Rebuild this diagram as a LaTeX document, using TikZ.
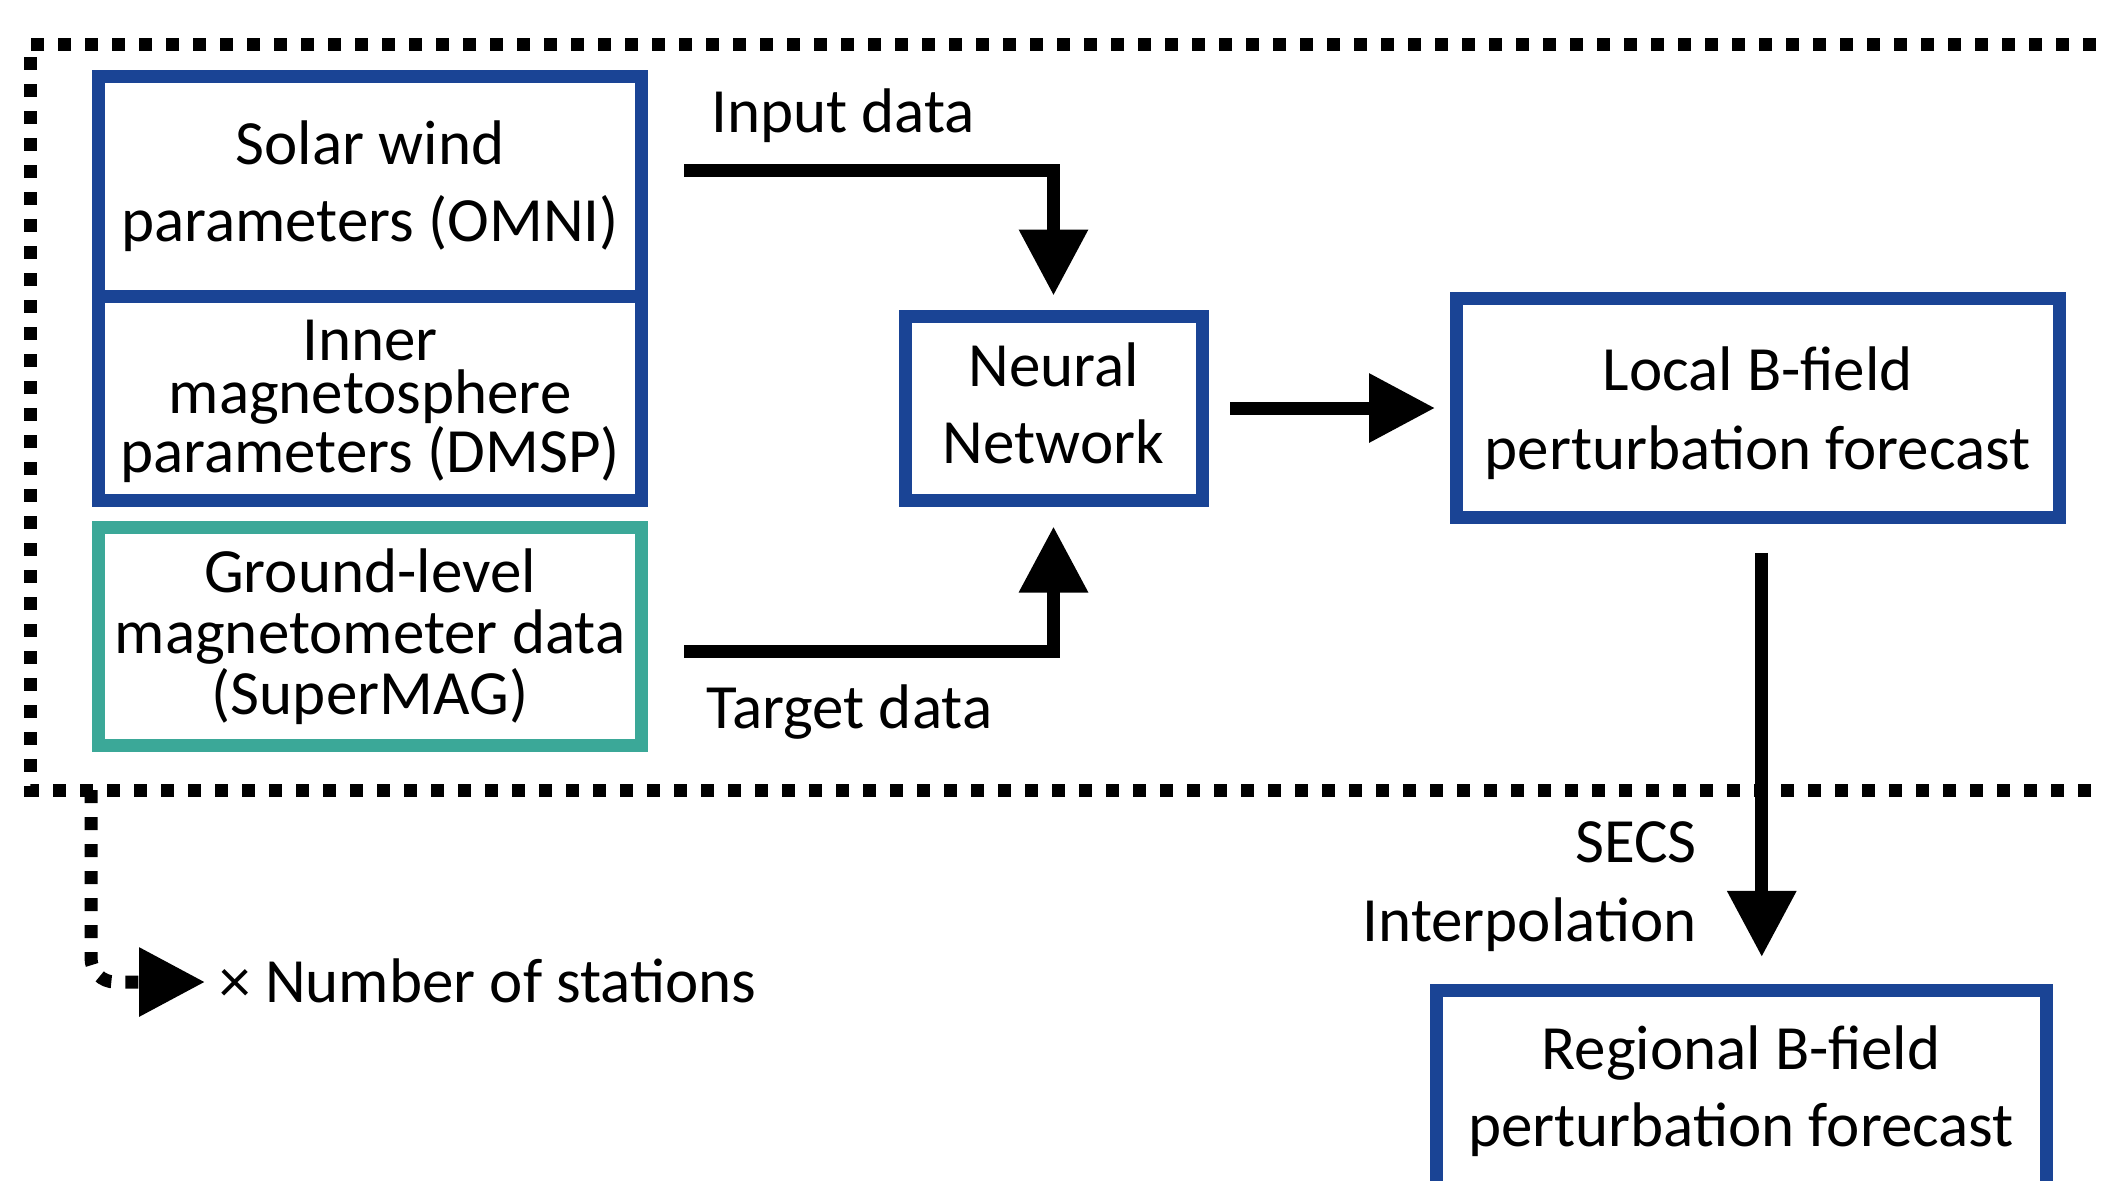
\documentclass[tikz,border=0pt]{standalone}
\usepackage{fontspec}
\setmainfont{Carlito}
\usetikzlibrary{arrows.meta, positioning}
\definecolor{boxblue}{HTML}{1A4495}
\definecolor{boxteal}{HTML}{3BA898}

\begin{document}
\begin{tikzpicture}[
    x=0.5pt, y=-0.5pt,
    node distance=7pt,
    every node/.style={font=\fontsize{31.5pt}{38.5pt}\selectfont},
    box/.style={rectangle, draw=boxblue, line width=6.5pt, align=center, inner sep=0pt},
    flow/.style={draw=black, line width=6.5pt, -{Triangle[length=33pt, width=33pt]}},
    frame/.style={draw=black, line width=6.5pt, dash pattern=on 6.5pt off 7pt},
    tail/.style={frame, -{Triangle[length=33pt, width=33pt]}},
    lbl/.style={inner sep=0pt}
]
    \useasboundingbox (0,0) rectangle (2103,1180);

    \node[box, minimum width=271.5pt, minimum height=109.75pt] (solar) at (370,186.25) {Solar wind\\parameters (OMNI)};
    \node[box, minimum width=271.5pt, minimum height=102.25pt, below=-6.5pt of solar, text depth=2pt, font=\fontsize{31.5pt}{26.5pt}\selectfont] (inner) {Inner\\magnetosphere\\parameters (DMSP)};
    \node[box, draw=boxteal, minimum width=271.5pt, minimum height=108.75pt, below=of inner, font=\fontsize{31.5pt}{30.5pt}\selectfont] (ground) {Ground-level\\magnetometer data\\(SuperMAG)};
    \node[box, minimum width=148.5pt, minimum height=92pt, text depth=5pt] (nn) at (1053.5,408) {Neural\\Network};
    \node[box, minimum width=301.25pt, minimum height=109.25pt, right=120.75pt of nn, text depth=-2pt, font=\fontsize{31.5pt}{39.25pt}\selectfont] (local) {Local B-field\\perturbation forecast};
    \node[box, minimum width=305pt, minimum height=109pt, text depth=13pt] (regional) at (1741,1099) {Regional B-field\\perturbation forecast};

    % dotted frame round the per-station part
    \draw[frame] (2150,44) -- (30,44) -- (30,790) -- (2150,790);

    \coordinate (inStart) at (684,170);
    \coordinate (tgtStart) at (684,651);
    \coordinate (secsTop) at ([xshift=2pt, yshift=-14.5pt]local.south);
    \coordinate (regTop) at ([yshift=13.3pt]regional.north);
    \draw[flow] (inStart) -| ([yshift=7pt]nn.north);
    \draw[flow] (tgtStart) -| ([yshift=-10pt]nn.south);
    \draw[flow] ([xshift=10.75pt]nn.east) -- ([xshift=-7.5pt]local.west);
    \draw[flow] (secsTop) -- (secsTop |- regTop);

    \node[lbl, anchor=base west] (inlbl) at (711,132) {Input data};
    \node[lbl, anchor=base west] (tgtlbl) at (706,728) {Target data};
    \node[lbl, align=right, anchor=base east, font=\fontsize{31.5pt}{39.5pt}\selectfont] (secs) at (1697,941) {SECS\\Interpolation};

    \coordinate (tailTop) at (91,790);
    \coordinate (tailEnd) at (205,982);
    \draw[tail, rounded corners=12pt] (tailTop) |- (tailEnd);
    \node[lbl, anchor=base west] (nstat) at (219,1002) {× Number of stations};
\end{tikzpicture}
\end{document}
